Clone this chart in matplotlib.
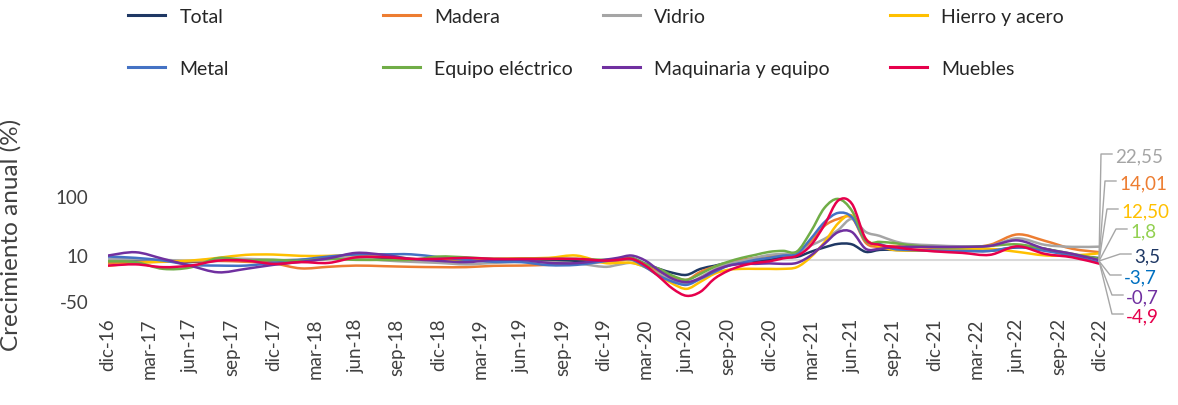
import numpy as np
import matplotlib
matplotlib.use("Agg")
import matplotlib.pyplot as plt
from matplotlib.lines import Line2D
from matplotlib.path import Path
from matplotlib.patches import PathPatch

plt.rcParams["font.family"] = ["Lato", "DejaVu Sans"]

# month index: 0 = dic-16 ... 72 = dic-22
MONTHS = list(range(0, 37, 2)) + list(range(37, 59)) + list(range(60, 73, 2))
TICK_LABELS = ["dic-16", "mar-17", "jun-17", "sep-17", "dic-17", "mar-18", "jun-18", "sep-18",
               "dic-18", "mar-19", "jun-19", "sep-19", "dic-19", "mar-20", "jun-20", "sep-20",
               "dic-20", "mar-21", "jun-21", "sep-21", "dic-21", "mar-22", "jun-22", "sep-22", "dic-22"]

total = [0, 0, -1.2, -2.4, -1.2, -1.2, -0.6, 0, 2, 4, 3, 1, 0, -0.6, 0, 0, -1.2, -1.2, -1.2,
         0, 3, -4.9, -11, -15.9, -18.3, -11, -7.3, -3.7, -2.4, -1.2, 0, 5.4, 6, 14.6, 21.4, 26.8, 26, 14.6, 17.6, 17.6, 16.9,
         16.1, 16.1, 16.1, 21.4, 19.2, 9, 3.5]
madera = [-3.7, -3, -2.4, -1.8, -1.2, -2.4, -4.3, -10.4, -8.5, -7, -7.7, -8.5, -8.9, -8.9, -7.3, -7, -6.1, -4.9, -2.4,
          -1.2, 0, -7.3, -14.6, -20.7, -24.4, -14.6, -8.5, -3.7, 0, 4, 8, 8.6, 11.5, 29.8, 54.2, 64.9, 66.4, 28.3, 22.2, 23.7, 22.2,
          20.7, 20.7, 25.3, 41.2, 31.4, 19.2, 14.01]
vidrio = [0, 1, 0, -1.2, 2, 2, 0, -1.2, 2, 4, -0.6, -2.4, -3.7, -5.5, -3.7, -2.4, -2.8, -4.3, -8.5,
          -6.1, -3.7, -8.9, -17.1, -25.3, -29.3, -21.1, -11.8, -4.9, -1.2, 4, 10, 11.5, 13.8, 24.2, 34.4, 48.1, 64.9, 45, 39, 31.4, 26.8,
          24.5, 23, 23.7, 35.2, 25.3, 22.2, 22.55]
hierro = [-7.3, -4, -2.1, -0.9, 4, 10, 10.5, 8, 8, 10, 10, 2, 0, 1, 2, 3, 4, 8.6, -3.7,
          -3.7, -3.7, -8.9, -19.2, -29.3, -35.4, -26.8, -17.1, -12.2, -11, -11, -11, -11, -8.9, 5.4, 29.3, 58.3, 69.9, 34.4, 22.7, 17.6, 16.6,
          16.9, 18.4, 19.2, 14.6, 9, 8.6, 12.5]
metal = [6.6, 4, -0.9, -6.1, -7, -7, -3.7, 0, 6.6, 10.5, 10.8, 10.8, 5.4, 0, -2.4, -2.8, -6.5, -6.1, -1.8,
         0, 0.6, -8.9, -19.5, -26.8, -30.5, -23.2, -15, -7.3, -3.7, 0, 4, 8.6, 11.5, 34.4, 59.9, 74.1, 67.5, 31.8, 26.8, 19.2, 17.6,
         16.6, 16.1, 16.1, 21.7, 16.1, 8, -3.7]
equipo_elec = [-1.8, -2.8, -11, -9.2, 3.6, -0.6, 0, -1.2, 2, 0, 0, 0, 6.6, 5, 2, 2, 2, 2, 0,
               2, 4, -4.9, -11, -19.5, -24.4, -17.1, -8.5, -2.4, 4, 10, 14.6, 16.1, 15.1, 45, 81.7, 95.4, 77.1, 31.8, 29.8, 28.3, 25.3,
               21.7, 21.7, 23.7, 26, 19.2, 11.5, 1.8]
maquinaria = [8.6, 14, 2, -7.3, -15.2, -11, -6.1, -2.4, 3, 13, 10, 2, -1.2, -2.8, 0, 0, -3.7, -4, 0,
              4, 8.6, -0.9, -13.1, -23.2, -27.2, -22.3, -13.1, -7.3, -4.9, -4.9, -4.3, -4.9, -3.7, 8.6, 26.8, 44.8, 44.8, 19.2, 19.2, 21.7, 22.2,
              22.2, 22.2, 23.7, 32.1, 19.2, 11.5, -0.7]
muebles = [-7, -5.5, -8.9, -7, -0.9, -0.9, -4.9, -2.8, -3.7, 5, 5.4, 2, 2, 4, 2, 2, 2, 2, -0.9,
           0, 2, -7, -20.7, -35.4, -43.9, -39, -23.2, -13.4, -7.3, -3.7, -1.8, 3, 8, 24.2, 55.8, 93, 87.8, 34.4, 25.3, 22.2, 19.2,
           15.3, 13, 10, 23, 11.5, 5, -4.9]

SERIES = [("Total", total, "#1F3864"), ("Madera", madera, "#ED7D31"),
          ("Vidrio", vidrio, "#A5A5A5"), ("Hierro y acero", hierro, "#FFC000"),
          ("Metal", metal, "#4472C4"), ("Equipo eléctrico", equipo_elec, "#70AD47"),
          ("Maquinaria y equipo", maquinaria, "#7030A0"), ("Muebles", muebles, "#E6004C")]

END_LABELS = ["22,55", "14,01", "12,50", "1,8", "3,5", "-3,7", "-0,7", "-4,9"]
END_COLORS = ["#A5A5A5", "#ED7D31", "#FFC000", "#92D050", "#1F3864", "#0070C0", "#7030A0", "#E6004C"]

YTICKS = [100, 10, -50]

# the source axis is non-uniform; piecewise-linear value -> position
Y_KNOTS = [-200, -50, 0, 10, 100, 300]
Y_POS = [-164, -41, 0, 5, 64, 195]
fwd = lambda v: np.interp(v, Y_KNOTS, Y_POS)
inv = lambda p: np.interp(p, Y_POS, Y_KNOTS)


def smooth_path(x, y, t=1 / 6):
    """Excel-style smoothed line: bezier segments through the points (in scaled space)."""
    p = np.column_stack([np.asarray(x, float), fwd(np.asarray(y, float))])
    n = len(p)
    verts, codes = [p[0]], [Path.MOVETO]
    for i in range(n - 1):
        p0, p1, p2, p3 = p[max(i - 1, 0)], p[i], p[i + 1], p[min(i + 2, n - 1)]
        verts += [p1 + (p2 - p0) * t, p2 - (p3 - p1) * t, p2]
        codes += [Path.CURVE4] * 3
    return Path(verts, codes)


W, H = 1178, 406
fig = plt.figure(figsize=(W / 100, H / 100), dpi=100)
ax = fig.add_axes([108 / W, 1 - 310 / H, 992 / W, 170 / H])
ax.set_yscale("function", functions=(fwd, inv))
ax.set_xlim(0, 72)
ax.set_ylim(-60, 187)

ax.axhline(0, color="#D9D9D9", lw=1.5, zorder=1)
scaled = ax.transLimits + ax.transAxes
handles = {}
for name, vals, col in SERIES:
    ax.add_patch(PathPatch(smooth_path(MONTHS, vals), transform=scaled, fill=False,
                           edgecolor=col, lw=1.8, zorder=2, capstyle="round", joinstyle="round"))
    handles[name] = Line2D([], [], color=col, lw=2.2, label=name)

ax.set_xticks(range(0, 73, 3))
ax.set_xticklabels(TICK_LABELS, rotation=90, fontsize=13.5, color="#404040")
ax.set_yticks(YTICKS)
ax.set_yticklabels([str(t) for t in YTICKS], fontsize=13.5, color="#404040")
ax.yaxis.set_minor_locator(matplotlib.ticker.NullLocator())
ax.tick_params(axis="x", length=0, pad=6)
ax.tick_params(axis="y", length=0, pad=14)
for s in ax.spines.values():
    s.set_visible(False)
ax.set_ylabel("Crecimiento anual (%)", fontsize=17.5, color="#404040")
ax.yaxis.set_label_coords(-0.087, 0.44)

# legend: four columns placed like the original
cols = [(["Total", "Metal"], 124), (["Madera", "Equipo eléctrico"], 379),
        (["Vidrio", "Maquinaria y equipo"], 599), (["Hierro y acero", "Muebles"], 886)]
for names, x0 in cols:
    leg = fig.legend(handles=[handles[n] for n in names], loc="upper left",
                     bbox_to_anchor=(x0 / W, 1 - 5 / H), frameon=False, fontsize=14,
                     handlelength=1.9, handletextpad=0.75, labelspacing=1.8,
                     borderaxespad=0, borderpad=0.2)
    for t in leg.get_texts():
        t.set_color("#262626")

# end-value callouts with leader lines
def P(x, y):
    return x / W, 1 - y / H

origin = (1099, 262)
elbows = [(1101, 155), (1105, 182), (1107, 210), (1116, 230), (1120, 255), (1110, 276), (1112, 296), (1112, 315)]
for (ex, ey), lab, col in zip(elbows, END_LABELS, END_COLORS):
    xs, ys = zip(P(*origin), P(ex, ey), P(ex + 11, ey))
    fig.add_artist(Line2D(xs, ys, transform=fig.transFigure, color="#A6A6A6", lw=1.0))
    tx, ty = P(ex + 14, ey + 2)
    fig.text(tx, ty, lab, color=col, fontsize=13.5, ha="left", va="center")

fig.savefig("out.png", dpi=100)
